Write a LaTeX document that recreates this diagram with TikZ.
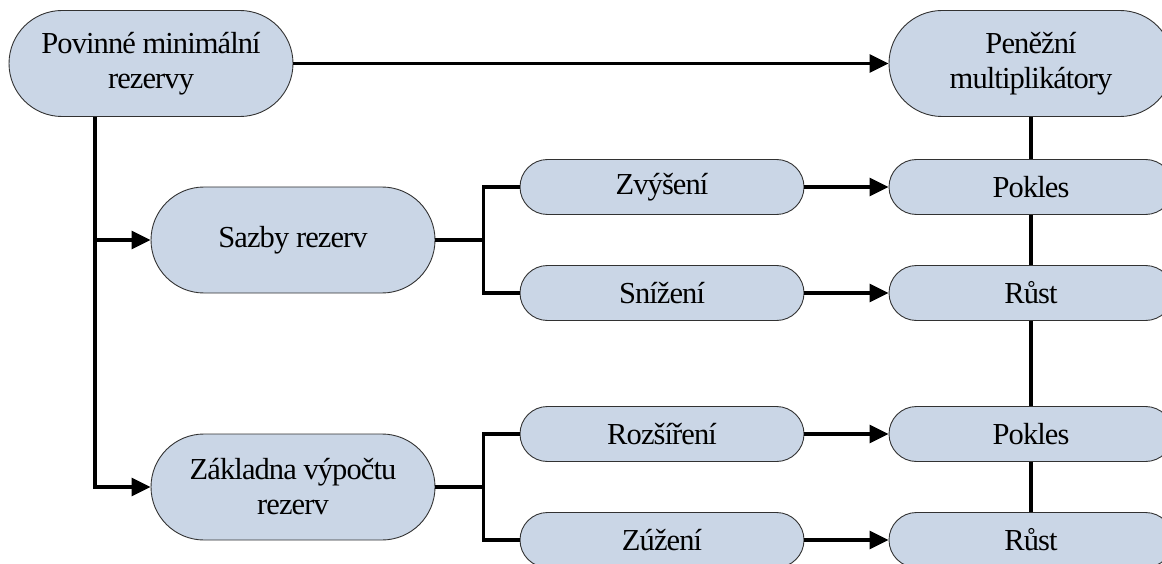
\documentclass[tikz,border=0pt]{standalone}
\usepackage{fontspec}
\setmainfont{Liberation Serif}[LetterSpace=-3]
\usetikzlibrary{shapes.misc,arrows.meta}
\definecolor{boxfill}{RGB}{202,214,230}
\definecolor{boxline}{RGB}{50,50,50}
\begin{document}
\begin{tikzpicture}[x={(1pt,0)},y={(0,-1pt)},
  pill/.style={rounded rectangle, draw=boxline, line width=0.9pt, fill=boxfill,
    inner sep=0pt, align=center, text=black,
    font=\fontsize{30.5}{35}\selectfont},
  bigpill/.style={pill, minimum width=284pt, minimum height=106pt},
  smallpill/.style={pill, minimum width=284pt, minimum height=55pt},
  conn/.style={line width=3.2pt, draw=black},
  arr/.style={conn, -{Triangle[length=19pt,width=18pt]}}]
\useasboundingbox (0,0) rectangle (1162,564);

% top level
\node[bigpill] (pmr) at (151,63.5) {Povinné minimální\\rezervy};
\node[bigpill] (pm)  at (1031,63.5) {Peněžní\\multiplikátory};

% second level
\node[bigpill] (sazby) at (293,240) {Sazby rezerv};
\node[bigpill] (zakl)  at (293,487) {Základna výpočtu\\rezerv};

% changes
\node[smallpill] (zv) at (662,187) {Zvýšení};
\node[smallpill] (sn) at (662,293) {Snížení};
\node[smallpill] (ro) at (662,434) {Rozšíření};
\node[smallpill] (zu) at (662,540) {Zúžení};

% effects on the multiplier
\node[smallpill] (pk1) at (1031,187) {Pokles};
\node[smallpill] (r1)  at (1031,293) {Růst};
\node[smallpill] (pk2) at (1031,434) {Pokles};
\node[smallpill] (r2)  at (1031,540) {Růst};

% connectors
\draw[arr] (pmr.east) -- (pm.west);
\draw[arr] ([xshift=-56pt]pmr.south) |- (sazby.west);
\draw[arr] ([xshift=-56pt]pmr.south) |- (zakl.west);

\draw[conn] (sazby.east) -- ++(48,0) |- (zv.west);
\draw[conn] (sazby.east) ++(48,0) |- (sn.west);
\draw[conn] (zakl.east) -- ++(48,0) |- (ro.west);
\draw[conn] (zakl.east) ++(48,0) |- (zu.west);

\draw[arr] (zv.east) -- (pk1.west);
\draw[arr] (sn.east) -- (r1.west);
\draw[arr] (ro.east) -- (pk2.west);
\draw[arr] (zu.east) -- (r2.west);

\draw[conn] (pm.south) -- (pk1.north);
\draw[conn] (pk1.south) -- (r1.north);
\draw[conn] (r1.south) -- (pk2.north);
\draw[conn] (pk2.south) -- (r2.north);
\end{tikzpicture}
\end{document}
